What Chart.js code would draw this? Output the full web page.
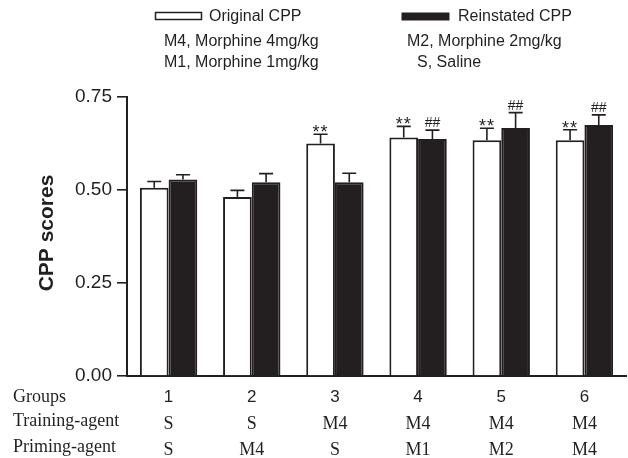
<!DOCTYPE html>
<html>
<head>
<meta charset="utf-8">
<script src="https://cdn.jsdelivr.net/npm/chart.js@4.4.1/dist/chart.umd.min.js"></script>
<style>
  html, body { margin: 0; padding: 0; background: #ffffff; }
  #wrap { width: 628px; height: 458px; position: relative; }
</style>
</head>
<body>
<div id="wrap"><canvas id="c" width="628" height="458"></canvas></div>
<script>
// ---- data ----
const groups = ['1', '2', '3', '4', '5', '6'];
const trainingAgent = ['S', 'S', 'M4', 'M4', 'M4', 'M4'];
const primingAgent = ['S', 'M4', 'S', 'M1', 'M2', 'M4'];
const originalCPP = [0.506, 0.481, 0.625, 0.641, 0.634, 0.634];
const reinstatedCPP = [0.528, 0.521, 0.521, 0.637, 0.667, 0.675];
const originalSE = [0.017, 0.018, 0.025, 0.030, 0.032, 0.028];
const reinstatedSE = [0.013, 0.023, 0.024, 0.024, 0.041, 0.027];
const originalSig = ['', '', '**', '**', '**', '**'];
const reinstatedSig = ['', '', '', '##', '##', '##'];
const yTicks = [0, 0.25, 0.5, 0.75];
const seriesNames = ['Original CPP', 'Reinstated CPP'];
const legendNotesLeft = ['M4, Morphine 4mg/kg', 'M1, Morphine 1mg/kg'];
const legendNotesRight = ['M2, Morphine 2mg/kg', 'S, Saline'];
const rowLabels = ['Groups', 'Training-agent', 'Priming-agent'];

const INK = '#231f20';
const SANS = '"Liberation Sans", Arial, Helvetica, sans-serif';
const SERIF = '"Liberation Serif", "Times New Roman", serif';

const errorBars = {
  id: 'errorBars',
  afterDatasetsDraw(chart) {
    const ctx = chart.ctx;
    const ys = chart.scales.y;
    const seList = [originalSE, reinstatedSE];
    const sigList = [originalSig, reinstatedSig];
    chart.data.datasets.forEach((ds, di) => {
      const meta = chart.getDatasetMeta(di);
      meta.data.forEach((bar, i) => {
        const v = ds.data[i];
        const top = ys.getPixelForValue(v);
        const eTop = ys.getPixelForValue(v + seList[di][i]);
        ctx.save();
        ctx.strokeStyle = INK;
        ctx.lineWidth = 1.6;
        ctx.beginPath();
        ctx.moveTo(bar.x, top);
        ctx.lineTo(bar.x, eTop);
        ctx.moveTo(bar.x - 7, eTop);
        ctx.lineTo(bar.x + 7, eTop);
        ctx.stroke();
        const s = sigList[di][i];
        if (s) {
          ctx.fillStyle = INK;
          ctx.textAlign = 'center';
          ctx.textBaseline = 'alphabetic';
          if (s === '**') {
            ctx.font = '18px ' + SANS;
            ctx.letterSpacing = '1px';
            ctx.fillText(s, bar.x, eTop + 4);
          } else {
            ctx.font = '14px ' + SANS;
            ctx.fillText(s, bar.x, eTop - 3);
          }
        }
        ctx.restore();
      });
    });
  },
  afterDraw(chart) {
    const ctx = chart.ctx;
    const xs = chart.scales.x;
    ctx.save();
    ctx.fillStyle = INK;
    // y axis title
    ctx.save();
    ctx.translate(47, 233);
    ctx.rotate(-Math.PI / 2);
    ctx.font = 'bold 21px ' + SANS;
    ctx.textAlign = 'center';
    ctx.textBaseline = 'middle';
    ctx.fillText('CPP scores', 0, 0);
    ctx.restore();

    // legend
    const d0 = chart.data.datasets[0], d1 = chart.data.datasets[1];
    ctx.lineWidth = 1.5;
    ctx.fillStyle = d0.backgroundColor;
    ctx.strokeStyle = d0.borderColor;
    ctx.fillRect(155.5, 12.5, 46, 7);
    ctx.strokeRect(155.5, 12.5, 46, 7);
    ctx.fillStyle = d1.backgroundColor;
    ctx.fillRect(401.5, 12.5, 48, 8);
    ctx.fillStyle = INK;
    ctx.font = '16px ' + SANS;
    ctx.textAlign = 'left';
    ctx.textBaseline = 'middle';
    ctx.fillText(d0.label, 209, 16.5);
    ctx.fillText(d1.label, 458, 16.5);
    ctx.fillText(legendNotesLeft[0], 164, 42);
    ctx.fillText(legendNotesLeft[1], 164, 63);
    ctx.fillText(legendNotesRight[0], 407, 42);
    ctx.fillText(legendNotesRight[1], 417, 63);

    // table under axis
    ctx.textBaseline = 'alphabetic';
    ctx.font = '18px ' + SERIF;
    ctx.fillText(rowLabels[0], 13, 402);
    ctx.fillText(rowLabels[1], 13, 426);
    ctx.fillText(rowLabels[2], 13, 452);
    ctx.textAlign = 'center';
    groups.forEach((g, i) => {
      const x = xs.getPixelForValue(i);
      ctx.font = '17px ' + SANS;
      ctx.fillText(g, x, 402);
      ctx.font = '18px ' + SERIF;
      ctx.fillText(trainingAgent[i], x, 429);
      ctx.fillText(primingAgent[i], x, 455);
    });
    ctx.restore();
  }
};

new Chart(document.getElementById('c'), {
  type: 'bar',
  data: {
    labels: groups,
    datasets: [
      {
        label: seriesNames[0],
        data: originalCPP,
        backgroundColor: '#ffffff',
        borderColor: INK,
        borderWidth: 2,
        barPercentage: 1.0,
        categoryPercentage: 0.69
      },
      {
        label: seriesNames[1],
        data: reinstatedCPP,
        backgroundColor: INK,
        borderColor: INK,
        borderWidth: 2,
        barPercentage: 1.0,
        categoryPercentage: 0.69
      }
    ]
  },
  options: {
    responsive: false,
    animation: false,
    devicePixelRatio: 1,
    layout: { padding: { top: 97, right: 2, bottom: 0, left: 0 } },
    plugins: { legend: { display: false }, tooltip: { enabled: false } },
    scales: {
      x: {
        offset: true,
        ticks: { display: false },
        grid: { display: false },
        border: { display: true, color: INK, width: 2 },
        afterFit(scale) { scale.height = 82; }
      },
      y: {
        min: 0,
        max: 0.75,
        afterBuildTicks(scale) { scale.ticks = yTicks.map(v => ({ value: v })); },
        ticks: {
          color: INK,
          padding: 5,
          font: { family: SANS, size: 19 },
          callback: v => Number(v).toFixed(2)
        },
        grid: { display: true, drawOnChartArea: false, drawTicks: true, tickLength: 10, color: INK, lineWidth: 1.6 },
        border: { display: true, color: INK, width: 2 },
        afterFit(scale) { scale.width = 127; }
      }
    }
  },
  plugins: [errorBars]
});
</script>
</body>
</html>
